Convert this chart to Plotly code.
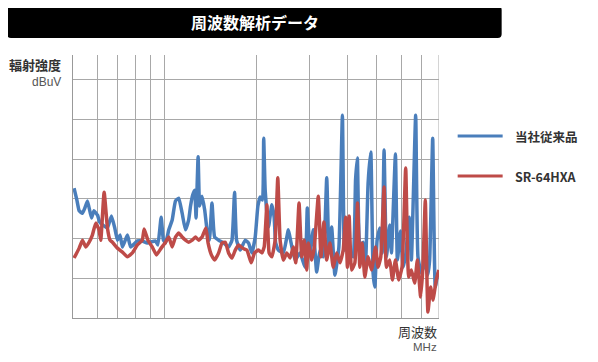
import plotly.graph_objects as go

# Frequency (MHz) and radiated level (dBuV, relative)
blue_freq = [50.4, 51.5, 52.4, 53.7, 54.7, 55.8, 57.5, 58.6, 60.2, 61.2, 63.2, 64.9, 66.9, 68.6, 70.0,
             71.4, 72.7, 75.5, 77.4, 81.4, 84.5, 87.8, 93.4, 95.1, 97.5, 99.2, 100.8, 103.3, 106.0,
             108.7, 111.4, 114.3, 117.2, 120.1, 121.7, 123.8, 125.7, 127.0, 129.0, 130.5, 132.9,
             135.6, 138.0, 140.5, 143.3, 146.2, 150.7, 156.5, 162.5, 166.7, 170.0, 172.6, 177.5,
             184.3, 189.0, 193.9, 198.8, 202.9, 206.4, 210.1, 212.0, 214.4, 219.8, 225.5, 229.5,
             232.1, 237.0, 246.1, 255.6, 260.9, 268.9, 279.2, 290.0, 295.0, 301.1, 308.7, 316.7,
             324.7, 332.9, 341.8, 347.6, 354.7, 363.6, 374.8, 384.9, 390.7, 400.2, 407.3, 417.5,
             425.2, 431.0, 439.2, 450.3, 458.5, 467.6, 477.2, 485.6, 491.9, 500.5, 510.8, 519.8,
             527.7, 537.3, 550.9, 558.0, 575.1, 583.8, 597.7, 609.1, 621.6, 638.2, 648.9, 670.4,
             682.1, 699.8, 717.5, 733.9, 745.1, 762.7, 777.8, 793.3, 799.3]
blue_level = [32.7, 29.7, 27.0, 26.4, 27.7, 29.5, 25.2, 27.0, 25.9, 24.2, 23.2, 22.7, 25.7, 22.7, 19.6,
              20.9, 17.9, 20.9, 17.9, 19.4, 19.4, 18.9, 19.4, 18.4, 25.4, 19.6, 18.9, 22.2, 24.7,
              29.5, 30.2, 26.4, 22.2, 24.7, 28.0, 31.0, 32.2, 25.2, 40.6, 28.2, 30.7,
              27.2, 22.2, 19.6, 29.0, 20.4, 19.6, 18.9, 17.9, 19.6, 31.7, 19.6, 17.1,
              19.6, 18.9, 16.4, 20.4, 28.2, 30.5, 29.7, 45.3, 32.2, 22.9, 28.5, 25.4,
              18.9, 17.1, 16.4, 22.2, 18.9, 14.6, 16.4, 12.8, 27.7, 16.4, 22.2, 11.6,
              17.1, 15.4, 35.3, 17.1, 22.9, 10.8, 17.9, 51.1, 17.1, 22.9, 16.4, 15.4,
              34.8, 40.3, 17.9, 19.1, 13.9, 34.0, 41.8, 11.3, 7.8, 19.6, 22.7, 16.4,
              42.3, 15.4, 23.4, 16.4, 41.3, 14.6, 21.9, 12.8, 15.9, 25.4, 14.6, 51.1,
              15.4, 11.3, 14.1, 10.8, 14.6, 45.3, 7.8, 11.3, 10.8]

red_freq = [50.4, 52.4, 53.7, 55.1, 56.5, 57.9, 59.4, 60.9, 61.7, 63.3, 64.9, 66.2, 67.4, 70.0, 72.7,
            75.5, 78.4, 81.4, 84.5, 85.7, 88.2, 91.1, 94.1, 97.5, 100.8, 103.3, 106.0, 108.7, 111.4,
            114.3, 117.2, 120.1, 123.3, 126.4, 129.6, 132.9, 136.8, 139.1, 142.6, 146.2, 150.7,
            154.6, 158.5, 162.5, 166.7, 170.9, 175.2, 180.6, 186.7, 192.9, 197.8, 203.8, 209.1,
            212.8, 217.2, 220.9, 225.5, 231.2, 235.9, 240.1, 246.1, 252.5, 258.9, 265.4, 270.3,
            277.1, 282.8, 288.4, 293.7, 297.3, 305.0, 311.1, 320.6, 327.2, 334.7, 341.6, 350.2,
            359.0, 368.4, 377.7, 387.2, 394.3, 399.7, 405.1, 412.5, 422.9, 431.6, 439.2, 446.9,
            456.1, 467.6, 479.8, 494.5, 504.3, 514.7, 527.7, 537.3, 550.9, 562.2, 575.1, 589.6,
            604.5, 621.6, 635.8, 648.9, 665.3, 679.0, 696.1, 708.3, 721.2, 735.6, 750.7, 763.8,
            783.7, 799.3]
red_level = [15.1, 17.6, 19.6, 17.9, 19.1, 20.9, 23.9, 22.2, 19.6, 31.7, 22.7, 19.6, 19.1, 17.6, 16.6,
             15.4, 16.4, 18.4, 19.6, 22.4, 19.6, 17.9, 15.9, 17.6, 19.1, 20.4, 17.9, 20.4, 21.4,
             20.4, 19.6, 19.1, 19.6, 20.4, 19.6, 20.4, 22.7, 18.9, 15.9, 14.6, 16.4,
             18.9, 19.1, 16.4, 15.1, 17.1, 18.4, 17.6, 17.1, 13.9, 16.4, 17.1, 16.4,
             17.9, 28.5, 16.4, 15.4, 19.6, 35.3, 19.6, 14.6, 16.4, 15.1, 17.9, 13.9,
             29.0, 15.4, 19.6, 12.1, 18.9, 14.6, 17.9, 30.7, 15.4, 24.2, 14.6, 18.9,
             12.8, 16.4, 13.9, 17.1, 25.4, 12.8, 25.7, 12.1, 13.9, 29.0, 12.8, 18.9,
             10.3, 15.4, 12.1, 17.9, 12.8, 15.4, 33.0, 12.8, 14.6, 9.6, 14.6, 9.6,
             12.8, 37.8, 10.3, 12.1, 8.8, 14.6, 5.3, 12.8, 29.7, 1.5, 7.8, 4.5,
             9.6, 12.1]

series_names = ["当社従来品", "SR-64HXA"]
series_colors = ["#4a7ebb", "#be4b48"]
grid_freqs = [60, 70, 80, 90, 100, 200, 300, 400, 500, 600, 700]

fig = go.Figure()
fig.add_trace(go.Scatter(x=blue_freq, y=blue_level, mode="lines", name=series_names[0],
                         line=dict(color=series_colors[0], width=3.5, shape="spline", smoothing=0.4),
                         showlegend=False))
fig.add_trace(go.Scatter(x=red_freq, y=red_level, mode="lines", name=series_names[1],
                         line=dict(color=series_colors[1], width=3.5, shape="spline", smoothing=0.4),
                         showlegend=False))

fig.update_layout(
    width=590, height=354,
    margin=dict(l=65, r=158.7, t=47, b=44),
    paper_bgcolor="white", plot_bgcolor="white",
    font=dict(family="Noto Sans CJK JP, Noto Sans, sans-serif", color="#333"),
    xaxis=dict(type="log", range=[1.69897, 2.90309], tickvals=grid_freqs,
               showticklabels=False, ticks="", showgrid=True, gridcolor="#a8a8a8", gridwidth=1,
               showline=True, linecolor="#999999", linewidth=1, zeroline=False),
    yaxis=dict(range=[0, 66.25], dtick=10, tick0=0, showticklabels=False, ticks="",
               showgrid=True, gridcolor="#a8a8a8", gridwidth=1,
               showline=True, linecolor="#999999", linewidth=1, zeroline=False),
)

# rounded title bar path (paper units)
x0, x1, y0, y1 = -0.1802, 1.1712, 1.0646, 1.1863
rx, ry = 0.0109, 0.0152
title_path = (f"M {x0+rx},{y0} L {x1-rx},{y0} Q {x1},{y0} {x1},{y0+ry} L {x1},{y1-ry} "
              f"Q {x1},{y1} {x1-rx},{y1} L {x0+rx},{y1} Q {x0},{y1} {x0},{y1-ry} "
              f"L {x0},{y0+ry} Q {x0},{y0} {x0+rx},{y0} Z")

shapes = []
shapes.append(dict(type="path", xref="paper", yref="paper", path=title_path,
                   fillcolor="black", line=dict(width=0), layer="above"))
# right border line / decade line
shapes.append(dict(type="line", xref="x", yref="paper", x0=800, x1=800, y0=0, y1=1,
                   line=dict(color="#a8a8a8", width=1), layer="below"))
shapes.append(dict(type="line", xref="x", yref="paper", x0=100, x1=100, y0=0, y1=1,
                   line=dict(color="#8a8a8a", width=1), layer="below"))
# legend lines
for yp, c in zip([0.6920, 0.5399], series_colors):
    shapes.append(dict(type="line", xref="paper", yref="paper", x0=1.0510, x1=1.1739, y0=yp, y1=yp,
                       line=dict(color=c, width=3)))
fig.update_layout(shapes=shapes)

ann = []
ann.append(dict(text="<b>周波数解析データ</b>", xref="paper", yref="paper", x=0.4969, y=1.1255,
                showarrow=False, font=dict(size=16, color="white"), xanchor="center", yanchor="middle"))
ann.append(dict(text="<b>輻射強度</b>", xref="paper", yref="paper", x=-0.027, y=0.962,
                showarrow=False, font=dict(size=13, color="#333"), xanchor="right", yanchor="middle"))
ann.append(dict(text="dBuV", xref="paper", yref="paper", x=-0.027, y=0.8985,
                showarrow=False, font=dict(size=12, color="#555", family="Liberation Sans, Arial"),
                xanchor="right", yanchor="middle"))
ann.append(dict(text="周波数", xref="paper", yref="paper", x=0.9992, y=-0.0522,
                showarrow=False, font=dict(size=13, color="#333"), xanchor="right", yanchor="middle"))
ann.append(dict(text="MHz", xref="paper", yref="paper", x=0.9992, y=-0.1116,
                showarrow=False, font=dict(size=11.5, color="#555", family="Liberation Sans, Arial"),
                xanchor="right", yanchor="middle"))
for yp, name in zip([0.6920, 0.5399], series_names):
    ann.append(dict(text="<b>" + name + "</b>", xref="paper", yref="paper", x=1.2012, y=yp,
                    showarrow=False, font=dict(size=12.5, color="#333"), xanchor="left", yanchor="middle"))
fig.update_layout(annotations=ann)

fig.write_html("out.html")
